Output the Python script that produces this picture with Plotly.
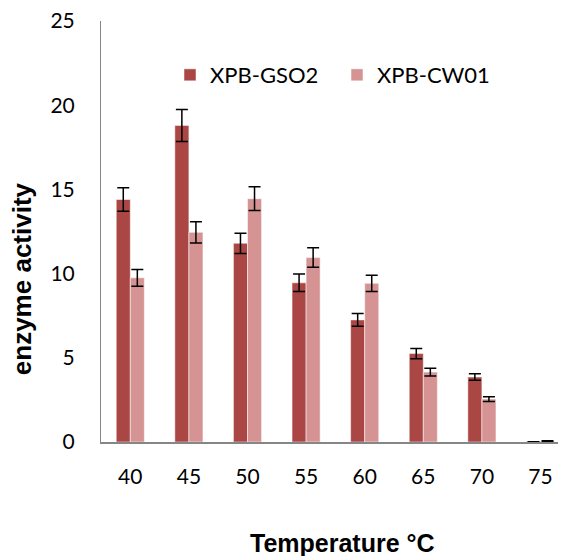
import plotly.graph_objects as go

temps = ["40", "45", "50", "55", "60", "65", "70", "75"]
gso2 = [14.4, 18.8, 11.8, 9.45, 7.25, 5.25, 3.86, 0.02]
gso2_err = [0.7, 0.95, 0.6, 0.52, 0.38, 0.3, 0.2, 0.0]
cw01 = [9.75, 12.45, 14.45, 10.95, 9.42, 4.15, 2.55, 0.05]
cw01_err = [0.5, 0.63, 0.7, 0.58, 0.48, 0.23, 0.14, 0.03]

# page body has an 8px margin, so the figure is shifted by 8px
OFF = 8
W, H = 566 - OFF, 556 - OFF
PL, PT, PB = 101, 21, 441.7          # plot area in page pixels
L, T = PL - OFF, PT - OFF
B = H - (PB - OFF)
R = 0
pw = W - L - R
ph = PB - PT
cat_w = 58.6
x_hi = -0.5 + pw / cat_w


def px(x):
    return (x - PL) / pw


def py(y):
    return (PB - y) / ph


tick_font = dict(family="Lato, Open Sans, sans-serif", size=21, color="#000000")
legend_font = dict(family="Lato, Open Sans, sans-serif", size=22, color="#000000")

fig = go.Figure()
fig.add_trace(go.Bar(
    name="XPB-GSO2", x=temps, y=gso2,
    marker=dict(color="#AA4644", line=dict(color="rgba(255,255,255,0.5)", width=1)),
    error_y=dict(type="data", array=gso2_err, visible=True, color="#000000", thickness=1.5, width=6),
))
fig.add_trace(go.Bar(
    name="XPB-CW01", x=temps, y=cw01,
    marker=dict(color="#D59493", line=dict(color="rgba(255,255,255,0.5)", width=1)),
    error_y=dict(type="data", array=cw01_err, visible=True, color="#000000", thickness=1.5, width=6),
))

fig.update_layout(
    width=W, height=H,
    margin=dict(l=L, r=R, t=T, b=B, pad=0),
    paper_bgcolor="white", plot_bgcolor="white",
    barmode="group", bargap=0.52, bargroupgap=0,
    showlegend=True,
    legend=dict(orientation="h", x=px(170), y=py(75), xanchor="left", yanchor="middle",
                font=legend_font, bgcolor="rgba(0,0,0,0)", itemwidth=30, borderwidth=0,
                entrywidth=122, entrywidthmode="pixels"),
    xaxis=dict(type="category", range=[-0.5, x_hi], showline=True, linecolor="#868686", linewidth=1.5,
               ticks="", showgrid=False, tickfont=tick_font, ticklabelstandoff=15, zeroline=False,
               ticklabeloverflow="allow"),
    yaxis=dict(range=[0, 25], tickvals=[0, 5, 10, 15, 20, 25], showline=True, linecolor="#868686",
               linewidth=1, ticks="", showgrid=False, zeroline=False, tickfont=tick_font,
               ticklabelstandoff=21, ticklabeloverflow="allow"),
    annotations=[
        dict(text="<b>enzyme activity</b>", xref="paper", yref="paper",
             x=px(22), y=py(279), xanchor="center", yanchor="middle",
             textangle=-90, showarrow=False,
             font=dict(family="Liberation Sans, Arial, sans-serif", size=26, color="#000000")),
        dict(text="<b>Temperature °C</b>", xref="paper", yref="paper",
             x=px(342.5), y=py(543), xanchor="center", yanchor="middle",
             showarrow=False,
             font=dict(family="Liberation Sans, Arial, sans-serif", size=25, color="#000000")),
    ],
)

fig.write_html("out.html")
